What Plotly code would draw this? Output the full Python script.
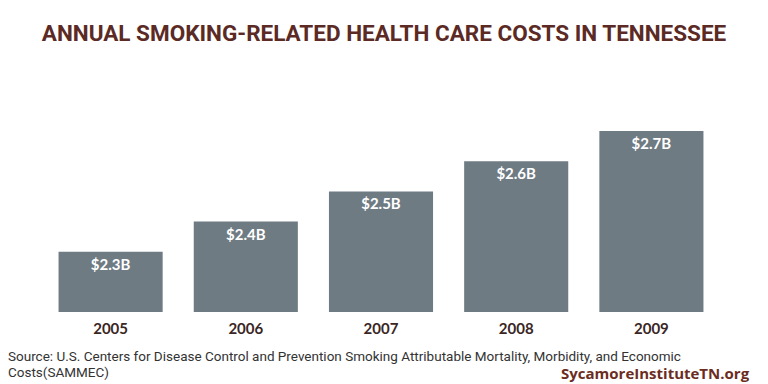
import plotly.graph_objects as go

years = ["2005", "2006", "2007", "2008", "2009"]
costs = [2.3, 2.4, 2.5, 2.6, 2.7]
labels = ["$2.3B", "$2.4B", "$2.5B", "$2.6B", "$2.7B"]
source_lines = [
    "Source: U.S. Centers for Disease Control and Prevention Smoking Attributable Mortality, Morbidity, and Economic",
    "Costs(SAMMEC)",
]

fig = go.Figure(go.Bar(
    x=years, y=costs,
    marker=dict(color="#6f7b83", line=dict(width=0)),
    text=labels, textposition="inside", insidetextanchor="end",
    texttemplate="<b>%{text}</b>",
    textfont=dict(color="white", size=15, family="Lato, sans-serif"),
    width=0.77,
))
fig.update_layout(
    width=768, height=384,
    margin=dict(l=43, r=49, t=0, b=0),
    paper_bgcolor="white", plot_bgcolor="white",
    showlegend=False,
    title=dict(text="<b>ANNUAL SMOKING-RELATED HEALTH CARE COSTS IN TENNESSEE</b>",
               x=0.5, xanchor="center", y=1 - 33/384, yanchor="middle",
               font=dict(size=22.5, color="#5b2a25", family="Roboto, sans-serif")),
    xaxis=dict(showgrid=False, showline=False, zeroline=False,
               tickfont=dict(size=15, color="#3a2624", family="Lato, sans-serif"),
               ticks="", ticklabelstandoff=6,
               tickvals=years, ticktext=[f"<b>{y}</b>" for y in years]),
    yaxis=dict(range=[2.1, 2.76], domain=[1 - 312/384, 1 - 113/384], visible=False),
    uniformtext=dict(mode=False),
)
for line, ypx in zip(source_lines, [356, 372]):
    fig.add_annotation(xref="paper", yref="paper", x=-37/676, y=1 - ypx/384, xanchor="left", yanchor="middle",
                       text=line, showarrow=False, align="left",
                       font=dict(size=13.5, color="#333333", family="Roboto, sans-serif"))
fig.add_annotation(xref="paper", yref="paper", x=1 + 33/676, y=1 - 373/384, xanchor="right", yanchor="middle",
                   text="<b>SycamoreInstituteTN.org</b>", showarrow=False,
                   font=dict(size=15, color="#6b2c22", family="Open Sans, sans-serif"))
fig.write_html("out.html", config={"displayModeBar": False},
               post_script="document.body.style.margin='0';document.body.style.padding='0';")
